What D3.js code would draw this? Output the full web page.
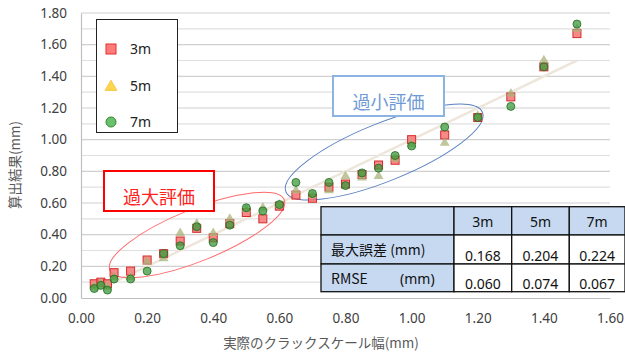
<!DOCTYPE html>
<html>
<head>
<meta charset="utf-8">
<script src="https://cdn.jsdelivr.net/npm/d3@7"></script>
<style>
  body { margin: 0; background: #fff; }
  text { font-family: "Noto Sans", "Noto Sans CJK JP", sans-serif; }
</style>
</head>
<body>
<div id="chart"></div>
<script>
const width = 625;
const height = 356;
const margin = { left: 81, right: 15, top: 13, bottom: 58 };

// measured crack width (mm)
const actual = [0.04, 0.06, 0.08, 0.10, 0.15, 0.20, 0.25, 0.30, 0.35, 0.40, 0.45, 0.50, 0.55, 0.60,
  0.65, 0.70, 0.75, 0.80, 0.85, 0.90, 0.95, 1.00, 1.10, 1.20, 1.30, 1.40, 1.50];
const result3m = [0.09, 0.10, 0.09, 0.16, 0.17, 0.24, 0.28, 0.36, 0.44, 0.38, 0.47, 0.54, 0.50, 0.58,
  0.65, 0.63, 0.70, 0.72, 0.78, 0.84, 0.87, 1.00, 1.03, 1.14, 1.27, 1.46, 1.67];
const result5m = [0.07, 0.09, 0.07, 0.13, 0.13, 0.23, 0.25, 0.41, 0.47, 0.41, 0.50, 0.56, 0.57, 0.59,
  0.68, 0.65, 0.68, 0.77, 0.76, 0.77, 0.88, 0.97, 0.98, 1.15, 1.29, 1.50, 1.70];
const result7m = [0.06, 0.08, 0.05, 0.12, 0.12, 0.17, 0.28, 0.33, 0.45, 0.35, 0.46, 0.57, 0.55, 0.59,
  0.73, 0.66, 0.73, 0.71, 0.79, 0.82, 0.90, 0.96, 1.08, 1.14, 1.21, 1.46, 1.73];
const seriesNames = ["3m", "5m", "7m"];
const xTicks = [0, 0.2, 0.4, 0.6, 0.8, 1.0, 1.2, 1.4, 1.6];
const yTicks = [0, 0.2, 0.4, 0.6, 0.8, 1.0, 1.2, 1.4, 1.6, 1.8];
const trend = [0.04, 1.50];

// table values
const tableHeader = ["", "3m", "5m", "7m"];
const maxError = ["0.168", "0.204", "0.224"];
const rmse = ["0.060", "0.074", "0.067"];

const svg = d3.select("#chart").append("svg")
  .attr("width", width)
  .attr("height", height);

const x = d3.scaleLinear().domain([0, 1.6]).range([margin.left, width - margin.right]);
const y = d3.scaleLinear().domain([0, 1.8]).range([height - margin.bottom, margin.top]);

// gridlines (every 0.1)
const gridVals = d3.range(1, 19).map(d => d / 10);
svg.append("g").selectAll("line")
  .data(gridVals)
  .enter().append("line")
  .attr("x1", x(0)).attr("x2", x(1.6))
  .attr("y1", d => y(d)).attr("y2", d => y(d))
  .attr("stroke", (d, i) => i % 2 == 1 ? "#d0d0d0" : "#e0e0e0")
  .attr("stroke-width", 1.2);

// axes
const xAxis = svg.append("g")
  .attr("transform", `translate(0,${y(0)})`)
  .call(d3.axisBottom(x).tickValues(xTicks).tickFormat(d3.format(".2f")).tickSize(0).tickPadding(15));
const yAxis = svg.append("g")
  .attr("transform", `translate(${x(0)},0)`)
  .call(d3.axisLeft(y).tickValues(yTicks).tickFormat(d3.format(".2f")).tickSize(0).tickPadding(14));
[xAxis, yAxis].forEach(a => {
  a.select(".domain").attr("stroke", "#bfbfbf").attr("stroke-width", 1.2);
  a.selectAll("text").attr("fill", "#404040").style("font-size", "13.5px");
});

// axis titles
svg.append("text")
  .attr("x", 321).attr("y", 348)
  .attr("text-anchor", "middle")
  .attr("fill", "#595959")
  .style("font-family", "'Noto Sans CJK JP', sans-serif")
  .style("font-size", "13.5px")
  .text("実際のクラックスケール幅(mm)");
svg.append("text")
  .attr("transform", "translate(20,165) rotate(-90)")
  .attr("text-anchor", "middle")
  .attr("fill", "#595959")
  .style("font-family", "'Noto Sans CJK JP', sans-serif")
  .style("font-size", "13.5px")
  .text("算出結果(mm)");

// trend line y = x
svg.append("line")
  .attr("x1", x(trend[0])).attr("y1", y(trend[0]))
  .attr("x2", x(trend[1])).attr("y2", y(trend[1]))
  .attr("stroke", "#eee6da")
  .attr("stroke-width", 2.5);

// annotation ellipses
function drawEllipse(cx, cy, rx, ry, color) {
  svg.append("ellipse")
    .attr("transform", `translate(${x(cx)},${y(cy)}) rotate(-22)`)
    .attr("rx", rx).attr("ry", ry)
    .attr("fill", "none")
    .attr("stroke", color)
    .attr("stroke-width", 1);
}
drawEllipse(0.351, 0.398, 94, 26, "#ff6b6b");
drawEllipse(0.917, 0.922, 106, 29, "#5b82c0");

// markers
const pts = actual.map((a, i) => ({ a, r3: result3m[i], r5: result5m[i], r7: result7m[i] }));
const marks = svg.append("g");
const sq = 8;
marks.selectAll(".s3").data(pts).enter().append("rect")
  .attr("x", d => x(d.a) - sq / 2).attr("y", d => y(d.r3) - sq / 2)
  .attr("width", sq).attr("height", sq)
  .attr("fill", "#f56b6b").attr("fill-opacity", 0.8)
  .attr("stroke", "#d62a2a").attr("stroke-width", 1);
const tri = d3.symbol().type(d3.symbolTriangle).size(42);
marks.selectAll(".s5").data(pts).enter().append("path")
  .attr("d", tri)
  .attr("transform", d => `translate(${x(d.a)},${y(d.r5)})`)
  .attr("fill", "#aab37a").attr("fill-opacity", 0.75);
marks.selectAll(".s7").data(pts).enter().append("circle")
  .attr("cx", d => x(d.a)).attr("cy", d => y(d.r7)).attr("r", 4)
  .attr("fill", "#3c9a3c").attr("fill-opacity", 0.75)
  .attr("stroke", "#226b22").attr("stroke-width", 0.8);

// legend
const legend = svg.append("g");
legend.append("rect")
  .attr("x", 96.5).attr("y", 19.5).attr("width", 81).attr("height", 113)
  .attr("fill", "#fff").attr("stroke", "#222").attr("stroke-width", 1);
const legendY = [49, 86, 122];
legend.append("rect")
  .attr("x", 106).attr("y", legendY[0] - 5).attr("width", 10).attr("height", 10)
  .attr("fill", "#ff7b7b").attr("stroke", "#e03030").attr("stroke-width", 1);
legend.append("path")
  .attr("d", d3.symbol().type(d3.symbolTriangle).size(60))
  .attr("transform", `translate(111,${legendY[1] + 1})`)
  .attr("fill", "#ffd54f").attr("stroke", "#f0c030").attr("stroke-width", 0.8);
legend.append("circle")
  .attr("cx", 111).attr("cy", legendY[2]).attr("r", 5)
  .attr("fill", "#6cbf6c").attr("stroke", "#2e8b2e").attr("stroke-width", 1);
legend.selectAll(".lt").data(seriesNames).enter().append("text")
  .attr("x", 130).attr("y", (d, i) => legendY[i] + 5)
  .attr("fill", "#222")
  .style("font-size", "14px")
  .text(d => d);

// annotation boxes
function drawLabel(x0, y0, w, h, color, textColor, label) {
  svg.append("rect")
    .attr("x", x0).attr("y", y0).attr("width", w).attr("height", h)
    .attr("fill", "#fff").attr("stroke", color).attr("stroke-width", 2);
  svg.append("text")
    .attr("x", x0 + w / 2).attr("y", y0 + h - 7)
    .attr("text-anchor", "middle")
    .attr("fill", textColor)
    .style("font-family", "'Noto Sans CJK JP', sans-serif")
    .style("font-size", "18px")
    .text(label);
}
drawLabel(104, 171, 110, 40, "#ff0000", "#ff2020", "過大評価");
drawLabel(333, 76, 111, 40, "#8db3e2", "#6f9ad6", "過小評価");

// table
const colX = [321, 454, 511.7, 569.3, 625];
const rowY = [206.7, 235, 264, 291.7];
const table = svg.append("g");
const rows = [tableHeader, ["最大誤差 (mm)"].concat(maxError), ["RMSE"].concat(rmse)];
rows.forEach((row, r) => {
  row.forEach((cell, c) => {
    table.append("rect")
      .attr("x", colX[c]).attr("y", rowY[r])
      .attr("width", colX[c + 1] - colX[c]).attr("height", rowY[r + 1] - rowY[r])
      .attr("fill", (r == 0 || c == 0) ? "#c6d9f1" : "#fff")
      .attr("stroke", "#111").attr("stroke-width", 1.3);
    const t = table.append("text")
      .attr("fill", "#111")
      .style("font-size", "14px")
      .text(cell);
    if (c == 0) {
      t.attr("x", colX[0] + 10).attr("y", rowY[r] + (r == 1 ? 20 : 20))
        .style("font-family", "'Noto Sans CJK JP', 'Noto Sans', sans-serif");
    } else {
      t.attr("x", (colX[c] + colX[c + 1]) / 2)
        .attr("y", r == 0 ? rowY[r] + 20 : rowY[r + 1] - 3)
        .attr("text-anchor", "middle");
    }
  });
});
table.append("text")
  .attr("x", 400).attr("y", rowY[2] + 20)
  .attr("fill", "#111")
  .style("font-size", "14px")
  .text("(mm)");
</script>
</body>
</html>
